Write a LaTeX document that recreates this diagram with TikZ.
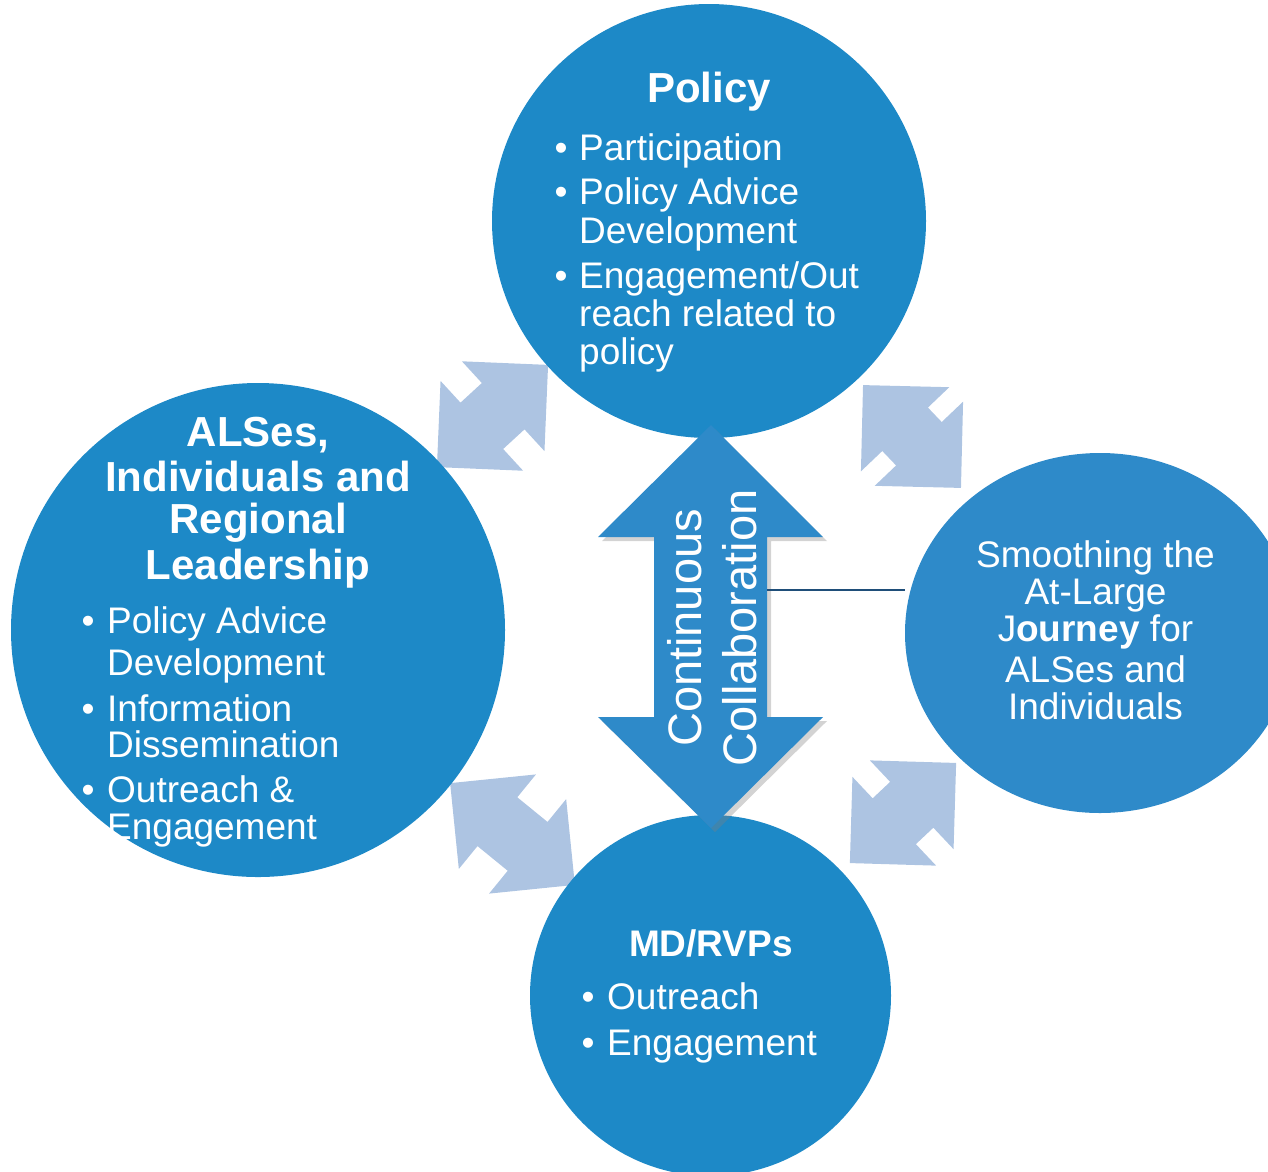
\documentclass[tikz,border=0pt]{standalone}
\usepackage{fontspec}
\setmainfont{Liberation Sans}
\usetikzlibrary{shapes.geometric,shadows}
\definecolor{cblue}{RGB}{29,137,199}
\definecolor{cblue2}{RGB}{46,138,201}
\definecolor{lblue}{RGB}{173,196,226}
\definecolor{navy}{RGB}{31,78,121}
\newcommand{\dblarr}[4]{%
  \begin{scope}[shift={(#1,#2)}, rotate=#3]
    \pgfmathsetmacro\ha{#4/2}
    \pgfmathsetmacro\hb{#4/2-61}
    \fill[lblue] (-\ha,0) -- (-\hb,61) -- (-\hb,31.5) -- (\hb,31.5) -- (\hb,61) -- (\ha,0)
      -- (\hb,-61) -- (\hb,-31.5) -- (-\hb,-31.5) -- (-\hb,-61) -- cycle;
  \end{scope}}
\tikzset{
  circ/.style={circle, inner sep=0, fill=cblue},
  tx/.style={text=white, inner sep=0, font=\fontsize{37}{38}\selectfont, anchor=base west},
  bl/.style={text=white, inner sep=0, font=\fontsize{37}{38}\selectfont, anchor=base},
  tc/.style={text=white, inner sep=0, font=\fontsize{37}{38}\selectfont, anchor=base},
  tt/.style={text=white, inner sep=0, font=\fontsize{42}{44}\selectfont\bfseries, anchor=base},
  ts/.style={text=white, inner sep=0, font=\fontsize{37}{38}\selectfont\bfseries, anchor=base},
}
\begin{document}
\begin{tikzpicture}[x=1pt, y=-1pt]
\useasboundingbox (0,0) rectangle (1268,1171);
\clip (0,0) rectangle (1268,1171);
% light double arrows
\dblarr{492.5}{416}{42.6}{151}
\dblarr{912}{436.5}{-46.4}{142}
\dblarr{512.5}{834}{-39.2}{161}
\dblarr{903}{813}{43.3}{146}
% circles
\node[circ, minimum size=434] (policy) at (709,221) {};
\node[circ, minimum size=494] (alses) at (258,630) {};
\node[circ, minimum size=361] (md) at (710.5,995.5) {};
\node[ellipse, inner sep=0, fill=cblue2, minimum width=390, minimum height=360] (smooth) at (1100,633) {};
% central double arrow
\path[fill=cblue2, drop shadow={shadow xshift=4pt, shadow yshift=-4pt, opacity=0.35}]
  (711,425) -- (823,537) -- (767,537) -- (767,717) -- (823,717) -- (711,828)
  -- (598,717) -- (654,717) -- (654,537) -- (598,537) -- cycle;
\node[rotate=90, align=center, text=white, inner sep=0, font=\fontsize{47}{55}\selectfont] (collab) at (712,628) {Continuous\\Collaboration};
\coordinate (lstart) at (767,590);
\draw[navy, line width=1.5] (lstart) -- (lstart -| smooth.west);
% Policy text
\node[tt] (pt) at (709,102) {Policy};
\node[bl] (pb1) at (561,160) {•};
\node[bl] (pb2) at (561,204) {•};
\node[bl] (pb3) at (561,288) {•};
\node[tx] (p1) at (579,160) {Participation};
\node[tx] (p2) at (579,204) {Policy Advice};
\node[tx] (p3) at (579,243) {Development};
\node[tx] (p4) at (579,288) {Engagement/Out};
\node[tx] (p5) at (579,326) {reach related to};
\node[tx] (p6) at (579,364) {policy};
% ALSes text
\node[tt] (at1) at (258,446) {ALSes,};
\node[tt] (at2) at (258,491) {Individuals and};
\node[tt] (at3) at (258,533) {Regional};
\node[tt] (at4) at (258,579) {Leadership};
\node[bl] (ab1) at (88,633) {•};
\node[bl] (ab2) at (88,721) {•};
\node[bl] (ab3) at (88,802) {•};
\node[tx] (a1) at (107,633) {Policy Advice};
\node[tx] (a2) at (107,675) {Development};
\node[tx] (a3) at (107,721) {Information};
\node[tx] (a4) at (107,757) {Dissemination};
\node[tx] (a5) at (107,802) {Outreach \&};
\node[tx] (a6) at (107,839) {Engagement};
% MD text
\node[ts] (mt) at (711,956) {MD/RVPs};
\node[bl] (mb1) at (588,1009) {•};
\node[bl] (mb2) at (588,1055) {•};
\node[tx] (m1) at (607,1009) {Outreach};
\node[tx] (m2) at (607,1055) {Engagement};
% Smoothing text
\node[tc] (s1) at (1095.5,567) {Smoothing the};
\node[tc] (s2) at (1095.5,604) {At-Large};
\node[tc] (s3) at (1095.5,641) {J\textbf{ourney} for};
\node[tc] (s4) at (1095.5,682) {ALSes and};
\node[tc] (s5) at (1095.5,719) {Individuals};
\end{tikzpicture}
\end{document}
